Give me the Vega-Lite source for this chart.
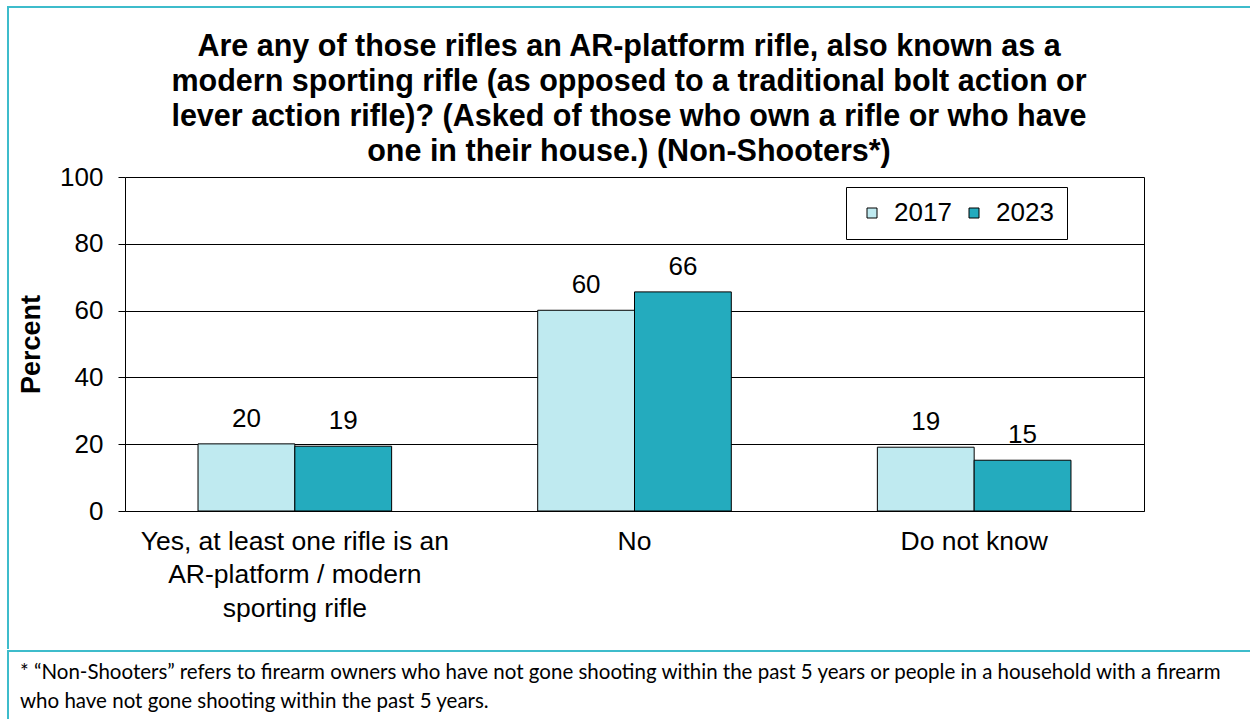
{
  "$schema": "https://vega.github.io/schema/vega-lite/v6.json",
  "padding": {"left": 7, "top": 6, "right": 0, "bottom": 0},
  "background": "white",
  "config": {"font": "Liberation Sans"},
  "spacing": 0,
  "vconcat": [
    {
      "width": 1242,
      "height": 642,
      "view": {"stroke": "#3dbccb", "strokeWidth": 2, "strokeDash": [1242, 1884, 642]},
      "title": {
        "text": [
          "Are any of those rifles an AR-platform rifle, also known as a",
          "modern sporting rifle (as opposed to a traditional bolt action or",
          "lever action rifle)? (Asked of those who own a rifle or who have",
          "one in their house.) (Non-Shooters*)"
        ],
        "fontSize": 30.5,
        "fontWeight": "bold",
        "lineHeight": 35,
        "anchor": "middle",
        "frame": "group",
        "offset": -160,
        "color": "black",
        "font": "Liberation Sans"
      },
      "data": {
        "values": [
          {"response": "Yes, at least one rifle is an AR-platform / modern sporting rifle", "year": "2017", "percent": 20.1},
          {"response": "Yes, at least one rifle is an AR-platform / modern sporting rifle", "year": "2023", "percent": 19.4},
          {"response": "No", "year": "2017", "percent": 60.1},
          {"response": "No", "year": "2023", "percent": 65.6},
          {"response": "Do not know", "year": "2017", "percent": 19.1},
          {"response": "Do not know", "year": "2023", "percent": 15.2}
        ]
      },
      "layer": [
        {
          "mark": {"type": "bar", "stroke": "black", "strokeWidth": 1},
          "encoding": {
            "x": {
              "field": "response",
              "type": "nominal",
              "sort": ["Yes, at least one rifle is an AR-platform / modern sporting rifle", "No", "Do not know"],
              "scale": {"range": [117, 1136], "paddingInner": 0.43, "paddingOuter": 0.215},
              "axis": {
                "orient": "bottom",
                "offset": -138,
                "title": null,
                "labelAngle": 0,
                "labelFontSize": 26.5,
                "labelColor": "black",
                "labelPadding": 17,
                "labelLineHeight": 33.5,
                "labelLimit": 0,
                "ticks": false,
                "domainColor": "black",
                "domainWidth": 1,
                "labelExpr": "datum.value == 'Yes, at least one rifle is an AR-platform / modern sporting rifle' ? ['Yes, at least one rifle is an', 'AR-platform / modern', 'sporting rifle'] : datum.value"
              }
            },
            "xOffset": {"field": "year", "type": "nominal", "scale": {"paddingInner": 0}},
            "y": {
              "field": "percent",
              "type": "quantitative",
              "scale": {"domain": [0, 100], "range": [504, 170]},
              "axis": {
                "orient": "left",
                "offset": -117,
                "values": [0, 20, 40, 60, 80, 100],
                "title": "Percent",
                "titleFontSize": 27,
                "titleFontWeight": "bold",
                "titleColor": "black",
                "titlePadding": 14,
                "labelFontSize": 26,
                "labelColor": "black",
                "labelPadding": 15,
                "tickSize": 7,
                "tickColor": "black",
                "domainColor": "black",
                "gridColor": "black",
                "gridWidth": 1
              }
            },
            "color": {
              "field": "year",
              "type": "nominal",
              "scale": {"domain": ["2017", "2023"], "range": ["#bfeaf0", "#24abbe"]},
              "legend": {
                "orient": "none",
                "legendX": 838,
                "legendY": 180,
                "direction": "horizontal",
                "title": null,
                "symbolType": "square",
                "symbolSize": 100,
                "symbolStrokeColor": "black",
                "symbolStrokeWidth": 1,
                "labelFontSize": 26,
                "labelColor": "black",
                "labelOffset": 9,
                "columnPadding": 9,
                "padding": 13,
                "strokeColor": "black",
                "fillColor": "white"
              }
            }
          }
        },
        {
          "mark": {"type": "text", "baseline": "bottom", "dy": -12, "fontSize": 26, "color": "black"},
          "encoding": {
            "x": {
              "field": "response",
              "type": "nominal",
              "sort": ["Yes, at least one rifle is an AR-platform / modern sporting rifle", "No", "Do not know"]
            },
            "xOffset": {"field": "year", "type": "nominal"},
            "y": {
              "field": "percent",
              "type": "quantitative",
              "scale": {"domain": [0, 100], "range": [504, 170]},
              "axis": {
                "orient": "right",
                "offset": -106,
                "labels": false,
                "ticks": false,
                "grid": false,
                "title": null,
                "domainColor": "black",
                "domainWidth": 1
              }
            },
            "text": {"field": "percent", "type": "quantitative", "format": ".0f"}
          }
        }
      ],
      "resolve": {"scale": {"y": "independent"}, "axis": {"y": "independent"}}
    },
    {
      "width": 1242,
      "height": 71,
      "view": {"stroke": "#3dbccb", "strokeWidth": 2, "strokeDash": [1242, 1313, 71]},
      "title": {
        "text": [
          "* “Non-Shooters” refers to firearm owners who have not gone shooting within the past 5 years or people in a household with a firearm",
          "who have not gone shooting within the past 5 years."
        ],
        "font": "Lato",
        "fontSize": 20.5,
        "fontWeight": "normal",
        "lineHeight": 29,
        "anchor": "start",
        "frame": "group",
        "dx": 12,
        "offset": -61,
        "color": "black"
      },
      "data": {"values": [{"note": 1}]},
      "mark": {"type": "point", "opacity": 0},
      "encoding": {}
    }
  ]
}
